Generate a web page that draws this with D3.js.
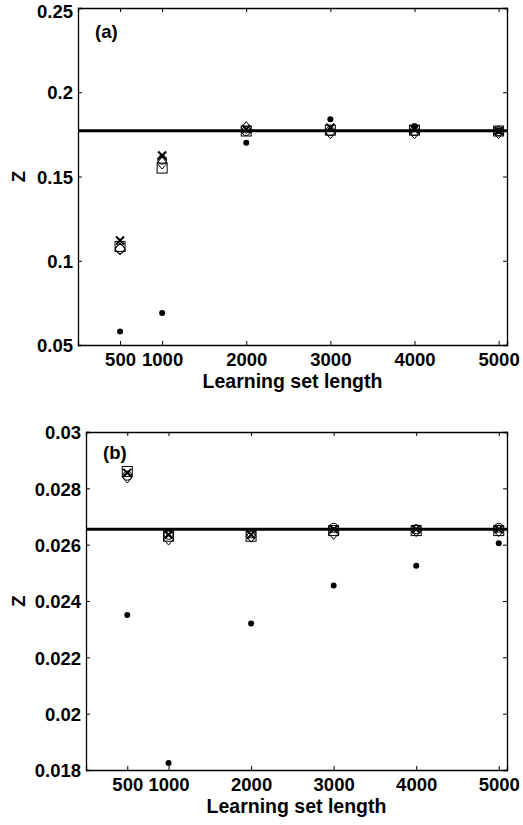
<!DOCTYPE html>
<html><head><meta charset="utf-8">
<script src="https://cdn.jsdelivr.net/npm/d3@7"></script>
<style>
body{margin:0;background:#fff;}
svg text{font-family:"Liberation Sans",Arial,sans-serif;font-weight:bold;fill:#000;}
</style></head>
<body><svg id="c" width="523" height="825"></svg>
<script>
const lengths = [500, 1000, 2000, 3000, 4000, 5000];
const xTicks = [500, 1000, 2000, 3000, 4000, 5000];

// Panel (a)
const yTicksA = [0.05, 0.1, 0.15, 0.2, 0.25];
const yTickLabelsA = ["0.05", "0.1", "0.15", "0.2", "0.25"];
const crossA   = [0.112, 0.1625, 0.178, 0.179, 0.178, 0.177];
const squareA  = [0.1085, 0.155, 0.177, 0.1775, 0.1775, 0.177];
const diamondA = [0.107, 0.158, 0.179, 0.176, 0.176, 0.176];
const circleA  = [0.107, 0.160, 0.177, 0.177, 0.177, 0.177];
const dotA     = [0.058, 0.069, 0.170, 0.184, 0.180, 0.177];
const refA = 0.1772;

// Panel (b)
const yTicksB = [0.018, 0.02, 0.022, 0.024, 0.026, 0.028, 0.03];
const yTickLabelsB = ["0.018", "0.02", "0.022", "0.024", "0.026", "0.028", "0.03"];
const crossB   = [0.02855, 0.02635, 0.02635, 0.02655, 0.02655, 0.02655];
const squareB  = [0.0286, 0.0263, 0.0263, 0.0265, 0.0265, 0.0265];
const diamondB = [0.0284, 0.0262, 0.0263, 0.0264, 0.0265, 0.0265];
const circleB  = [0.02845, 0.02635, 0.0264, 0.0266, 0.02655, 0.0266];
const dotB     = [0.0235, 0.01825, 0.0232, 0.02455, 0.02525, 0.02605];
const refB = 0.02655;

const svg = d3.select("#c");
const FS = 18.5;

function panel(o) {
  const x = d3.scaleLinear().domain([0, 5100]).range([o.left, o.right]);
  const y = d3.scaleLinear().domain(o.yDomain).range([o.bottom, o.top]);
  const g = svg.append("g");
  const tl = 4;
  const ax = g.append("g").attr("transform", `translate(0,${o.bottom})`)
    .call(d3.axisBottom(x).tickValues(xTicks).tickSize(-tl).tickPadding(8).tickFormat(d3.format("d")));
  const axT = g.append("g").attr("transform", `translate(0,${o.top})`)
    .call(d3.axisTop(x).tickValues(xTicks).tickSize(-tl).tickFormat(""));
  const ay = g.append("g").attr("transform", `translate(${o.left},0)`)
    .call(d3.axisLeft(y).tickValues(o.yTicks).tickSize(-tl).tickPadding(5).tickFormat((d, i) => o.yLabels[i]));
  const ayR = g.append("g").attr("transform", `translate(${o.right},0)`)
    .call(d3.axisRight(y).tickValues(o.yTicks).tickSize(-tl).tickFormat(""));
  [ax, axT, ay, ayR].forEach(a => {
    a.select(".domain").attr("stroke", "#000").attr("stroke-width", 1.3);
    a.selectAll(".tick line").attr("stroke", "#000").attr("stroke-width", 1);
    a.selectAll("text").attr("font-size", FS).attr("font-family", "Liberation Sans, Arial, sans-serif").attr("font-weight", "bold");
  });
  ax.selectAll("text").attr("dy", "0.71em");
  ay.selectAll("text").attr("dy", "0.36em");
  // keep the topmost label inside the page
  ay.selectAll("text").filter(d => y(d) - 17 < 0).attr("dy", d => (17 - y(d)) + "px");
  g.append("text").attr("x", (o.left + o.right) / 2).attr("y", o.bottom + 43)
    .attr("text-anchor", "middle").attr("font-size", FS + 1).text("Learning set length");
  g.append("text").attr("transform", `translate(${o.zx},${(o.top + o.bottom) / 2}) rotate(-90)`)
    .attr("text-anchor", "middle").attr("dy", "0.36em").attr("font-size", FS).text("Z");
  g.append("text").attr("x", o.tagX).attr("y", o.tagY).attr("font-size", FS).text(o.tag);
  g.append("line").attr("x1", x.range()[0]).attr("x2", x.range()[1])
    .attr("y1", y(o.ref)).attr("y2", y(o.ref)).attr("stroke", "#000").attr("stroke-width", 3);

  const pts = v => lengths.map((L, i) => ({ x: x(L), y: y(v[i]) }));
  g.selectAll(null).data(pts(o.square)).enter().append("rect")
    .attr("x", d => d.x - 5).attr("y", d => d.y - 5).attr("width", 10).attr("height", 10)
    .attr("fill", "none").attr("stroke", "#000").attr("stroke-width", 1);
  g.selectAll(null).data(pts(o.diamond)).enter().append("path")
    .attr("d", d => `M${d.x},${d.y - 6}L${d.x + 5},${d.y}L${d.x},${d.y + 6}L${d.x - 5},${d.y}Z`)
    .attr("fill", "none").attr("stroke", "#000").attr("stroke-width", 1);
  g.selectAll(null).data(pts(o.circle)).enter().append("circle")
    .attr("cx", d => d.x).attr("cy", d => d.y).attr("r", 4.5)
    .attr("fill", "none").attr("stroke", "#000").attr("stroke-width", 1);
  g.selectAll(null).data(pts(o.cross)).enter().append("path")
    .attr("d", d => `M${d.x - 4},${d.y - 4}L${d.x + 4},${d.y + 4}M${d.x - 4},${d.y + 4}L${d.x + 4},${d.y - 4}`)
    .attr("fill", "none").attr("stroke", "#000").attr("stroke-width", 2);
  g.selectAll(null).data(pts(o.dot)).enter().append("circle")
    .attr("cx", d => d.x).attr("cy", d => d.y).attr("r", 3).attr("fill", "#000");
}

panel({ left: 78, right: 507, top: 8, bottom: 345, yDomain: [0.05, 0.25],
  yTicks: yTicksA, yLabels: yTickLabelsA, ref: refA,
  cross: crossA, square: squareA, diamond: diamondA, circle: circleA, dot: dotA,
  tag: "(a)", tagX: 95, tagY: 38, zx: 18 });

panel({ left: 86, right: 507, top: 432, bottom: 770, yDomain: [0.018, 0.03],
  yTicks: yTicksB, yLabels: yTickLabelsB, ref: refB,
  cross: crossB, square: squareB, diamond: diamondB, circle: circleB, dot: dotB,
  tag: "(b)", tagX: 103, tagY: 459, zx: 18 });
</script></body></html>
